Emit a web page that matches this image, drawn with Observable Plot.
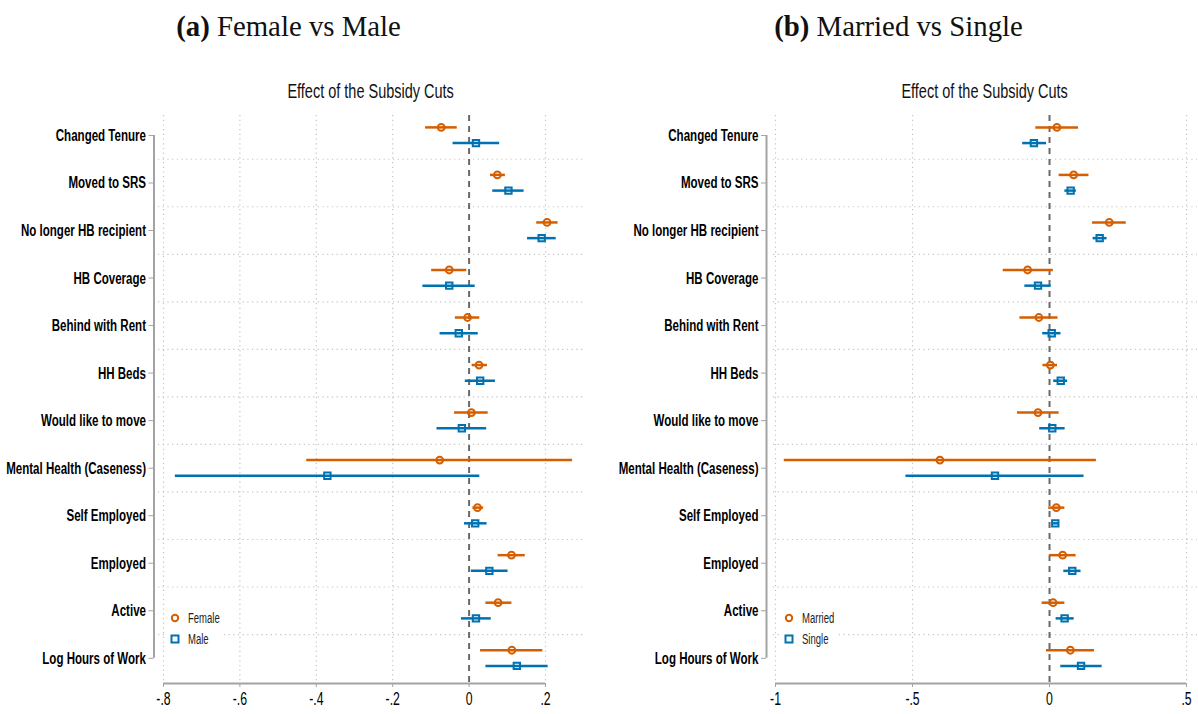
<!DOCTYPE html>
<html>
<head>
<meta charset="utf-8">
<script src="https://cdn.jsdelivr.net/npm/d3@7"></script>
<script src="https://cdn.jsdelivr.net/npm/@observablehq/plot@0.6"></script>
<style>
  html, body { margin: 0; padding: 0; background: #fff; }
  body { width: 1198px; height: 714px; position: relative; overflow: hidden; }
  .panel { position: absolute; top: 0; width: 599px; height: 714px; }
  .title { position: absolute; top: 12px; left: 0; width: 100%; text-align: center;
           font-family: "Liberation Serif", "DejaVu Serif", serif; font-size: 28.8px; line-height: 28px; color: #111; }
  .title b { font-weight: bold; }
  .sub { position: absolute; top: 78px; text-align: center; white-space: nowrap; }
  .sub span { display: inline-block; transform: scaleX(0.69); transform-origin: center;
         font-family: "Liberation Sans", Arial, sans-serif; font-size: 21px; line-height: 26px; color: #111; }
  .chart { position: absolute; top: 100px; left: 0; }
  .legend { position: absolute; background: #fff; }
</style>
</head>
<body>
<script>
// ---------- data ----------
const categories = ["Changed Tenure", "Moved to SRS", "No longer HB recipient", "HB Coverage",
  "Behind with Rent", "HH Beds", "Would like to move", "Mental Health (Caseness)",
  "Self Employed", "Employed", "Active", "Log Hours of Work"];

// Panel (a): Female vs Male
const femaleEst = [-0.073, 0.074, 0.204, -0.052, -0.004, 0.026, 0.006, -0.077, 0.022, 0.111, 0.076, 0.112];
const femaleLo  = [-0.114, 0.056, 0.177, -0.098, -0.036, 0.008, -0.038, -0.425, 0.010, 0.076, 0.044, 0.030];
const femaleHi  = [-0.031, 0.095, 0.233, -0.006, 0.028, 0.048, 0.050, 0.271, 0.038, 0.147, 0.112, 0.193];
const maleEst   = [0.018, 0.103, 0.190, -0.052, -0.027, 0.029, -0.019, -0.371, 0.016, 0.053, 0.018, 0.125];
const maleLo    = [-0.042, 0.062, 0.153, -0.121, -0.076, -0.010, -0.084, -0.769, -0.012, 0.006, -0.020, 0.044];
const maleHi    = [0.080, 0.144, 0.228, 0.016, 0.024, 0.069, 0.046, 0.028, 0.047, 0.102, 0.058, 0.207];

// Panel (b): Married vs Single
const marriedEst = [0.027, 0.088, 0.218, -0.080, -0.039, 0.003, -0.042, -0.400, 0.025, 0.048, 0.013, 0.076];
const marriedLo  = [-0.050, 0.035, 0.157, -0.169, -0.108, -0.024, -0.117, -0.968, -0.003, 0.000, -0.027, -0.011];
const marriedHi  = [0.106, 0.144, 0.280, 0.014, 0.031, 0.029, 0.035, 0.171, 0.056, 0.097, 0.056, 0.164];
const singleEst  = [-0.057, 0.077, 0.183, -0.042, 0.008, 0.041, 0.010, -0.199, 0.021, 0.083, 0.055, 0.115];
const singleLo   = [-0.098, 0.056, 0.159, -0.090, -0.025, 0.015, -0.036, -0.524, 0.010, 0.052, 0.024, 0.041];
const singleHi   = [-0.011, 0.098, 0.210, 0.006, 0.042, 0.066, 0.057, 0.126, 0.035, 0.115, 0.090, 0.192];

const ticksA = [-0.8, -0.6, -0.4, -0.2, 0, 0.2];
const ticksB = [-1, -0.5, 0, 0.5];

// ---------- style ----------
const ORANGE = "#D55E00", BLUE = "#0072B2";
const GRID = "#c4c4c4", AXIS = "#a3a3a3";
const SANS = '"Liberation Sans", Arial, sans-serif';
const SQUEEZE = 0.68;
const fmt = d => d === 0 ? "0" : String(d).replace(/^(-?)0\./, "$1.");

function rows(est, lo, hi, offset) {
  return categories.map((c, i) => ({cat: c, pos: i + 1 + offset, est: est[i], lo: lo[i], hi: hi[i]}));
}

// horizontally condense a text element around its own anchor point
function squeeze(t, sx) {
  let x = parseFloat(t.getAttribute("x"));
  if (!isFinite(x)) x = 0;
  const T = t.getAttribute("transform") || "";
  t.setAttribute("transform", `${T} translate(${x},0) scale(${sx},1) translate(${-x},0)`.trim());
}

function panel(cfg) {
  const n = categories.length;
  const W = 599, H = 614;
  const yDomain = [0.58, n + 0.53];
  const s1 = rows(cfg.a.est, cfg.a.lo, cfg.a.hi, -0.17);
  const s2 = rows(cfg.b.est, cfg.b.lo, cfg.b.hi, 0.16);
  const gridX = cfg.ticks.filter(t => t !== 0);
  const gridY = d3.range(1.5, n, 1);
  const chart = Plot.plot({
    width: W, height: H,
    marginLeft: cfg.mL, marginRight: cfg.mR, marginTop: 15, marginBottom: 31,
    style: {fontFamily: SANS, background: "transparent", overflow: "visible"},
    x: {domain: cfg.xDomain},
    y: {domain: yDomain, reverse: true},
    marks: [
      Plot.ruleX(gridX, {stroke: GRID, strokeWidth: 1.2, strokeDasharray: "1.2,3.5"}),
      Plot.ruleY(gridY, {stroke: GRID, strokeWidth: 1.2, strokeDasharray: "1.2,3.5"}),
      Plot.ruleX([0], {stroke: "#6a6a6a", strokeWidth: 2, strokeDasharray: "6,5"}),
      // axes
      Plot.ruleX([cfg.xDomain[0]], {y1: 1, y2: n, dx: cfg.axDx, stroke: AXIS, strokeWidth: 2}),
      Plot.ruleY([yDomain[1]], {x1: cfg.ticks[0], x2: cfg.ticks[cfg.ticks.length - 1], stroke: AXIS, strokeWidth: 2}),
      Plot.axisY(d3.range(1, n + 1), {
        tickFormat: i => categories[i - 1], tickSize: 5, tickPadding: 3, dx: cfg.axDx,
        stroke: AXIS, fill: "#000", fontSize: 17, fontWeight: "bold", label: null
      }),
      Plot.axisX(cfg.ticks, {
        tickFormat: fmt, tickSize: 4, tickPadding: 5, stroke: AXIS, fill: "#000",
        fontSize: 18, label: null
      }),
      // confidence intervals
      Plot.ruleY(s1, {y: "pos", x1: "lo", x2: "hi", stroke: ORANGE, strokeWidth: 2.5}),
      Plot.ruleY(s2, {y: "pos", x1: "lo", x2: "hi", stroke: BLUE, strokeWidth: 2.5}),
      // point estimates
      Plot.dot(s1, {x: "est", y: "pos", symbol: "circle", r: 3.4, stroke: ORANGE, strokeWidth: 2, fill: "none"}),
      Plot.dot(s2, {x: "est", y: "pos", symbol: "square", r: 3.6, stroke: BLUE, strokeWidth: 2, fill: "none"})
    ]
  });
  chart.classList.add("chart");
  chart.querySelectorAll("text").forEach(t => squeeze(t, SQUEEZE));

  const div = document.createElement("div");
  div.className = "panel";
  div.style.left = cfg.left + "px";
  div.innerHTML = `<div class="title" style="left:${cfg.titleDx}px"><b>${cfg.tag}</b> ${cfg.title}</div>
    <div class="sub" style="left:${cfg.mL}px;width:${W - cfg.mL - cfg.mR}px"><span>Effect of the Subsidy Cuts</span></div>`;
  div.appendChild(chart);

  const leg = document.createElement("div");
  leg.className = "legend";
  leg.style.left = cfg.legLeft + "px";
  leg.style.top = "603px";
  leg.style.width = "58px";
  leg.style.height = "50px";
  leg.innerHTML = `<svg width="58" height="50" style="font-family:'Liberation Sans', Arial, sans-serif;font-size:14px">
    <circle cx="9" cy="15" r="3.2" fill="none" stroke="${ORANGE}" stroke-width="2"/>
    <text x="22" y="15" dy="0.35em" fill="#222">${cfg.a.name}</text>
    <rect x="5.5" y="32.5" width="7" height="7" fill="none" stroke="${BLUE}" stroke-width="2"/>
    <text x="22" y="36" dy="0.35em" fill="#222">${cfg.b.name}</text>
  </svg>`;
  leg.querySelectorAll("text").forEach(t => squeeze(t, SQUEEZE));
  div.appendChild(leg);
  document.body.appendChild(div);
}

panel({
  left: 0, tag: "(a)", title: "Female vs Male", titleDx: -11,
  mL: 158, mR: 16, axDx: -4.5, xDomain: [-0.8131, 0.2995], ticks: ticksA, legLeft: 166,
  a: {name: "Female", est: femaleEst, lo: femaleLo, hi: femaleHi},
  b: {name: "Male", est: maleEst, lo: maleLo, hi: maleHi}
});
panel({
  left: 599, tag: "(b)", title: "Married vs Single", titleDx: 0,
  mL: 174, mR: 1, axDx: -7, xDomain: [-1.0073, 0.540], ticks: ticksB, legLeft: 181,
  a: {name: "Married", est: marriedEst, lo: marriedLo, hi: marriedHi},
  b: {name: "Single", est: singleEst, lo: singleLo, hi: singleHi}
});
</script>
</body>
</html>
